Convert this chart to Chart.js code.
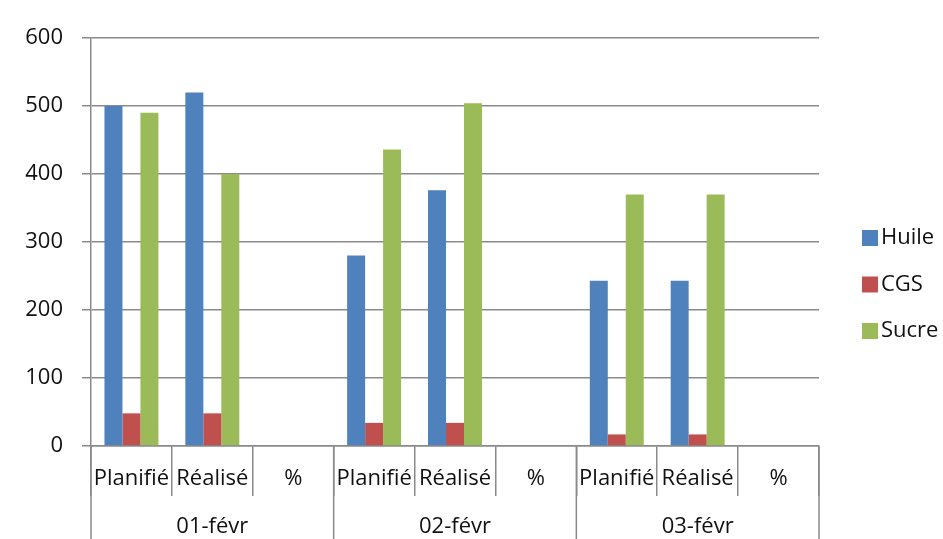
<!DOCTYPE html>
<html>
<head>
<meta charset="utf-8">
<script src="https://cdn.jsdelivr.net/npm/chart.js@4/dist/chart.umd.min.js"></script>
<style>
  html, body { margin: 0; padding: 0; background: #fff; }
  #wrap { width: 943px; height: 539px; position: relative; }
</style>
</head>
<body>
<div id="wrap"><canvas id="chart"></canvas></div>
<script>
// DATA
const groups = ["01-févr", "02-févr", "03-févr"];
const subLabels = ["Planifié", "Réalisé", "%"];
const categories = groups.flatMap(() => subLabels);

const huile = [500, 520, null, 280, 376, null, 243, 243, null];
const cgs = [48, 48, null, 34, 34, null, 17, 17, null];
const sucre = [490, 400, null, 436, 504, null, 370, 370, null];

const yTicks = [0, 100, 200, 300, 400, 500, 600];

const FONT = "'Open Sans', 'DejaVu Sans', sans-serif";
const TEXT = "#111";
const GRID = "#8a8a8a";

// group row under the x axis + long separators
const groupRow = {
    id: "groupRow",
    afterDraw(chart) {
        const ctx = chart.ctx;
        const x = chart.scales.x;
        const slot = x.getPixelForValue(1) - x.getPixelForValue(0);
        const bottom = chart.height;

        ctx.save();
        ctx.strokeStyle = GRID;
        ctx.lineWidth = 1.5;
        for (let g = 0; g <= groups.length; g++) {
            const px = x.getPixelForValue(g * 3) - slot / 2;
            ctx.beginPath();
            ctx.moveTo(px, x.top);
            ctx.lineTo(px, bottom);
            ctx.stroke();
        }

        ctx.fillStyle = TEXT;
        ctx.font = "22px " + FONT;
        ctx.textAlign = "center";
        ctx.textBaseline = "middle";
        groups.forEach((g, i) => {
            ctx.fillText(g, x.getPixelForValue(i * 3 + 1), 527);
        });
        ctx.restore();
    }
};

// legend on the right
const sideLegend = {
    id: "sideLegend",
    afterDraw(chart) {
        const ctx = chart.ctx;
        ctx.save();
        ctx.font = "22px " + FONT;
        ctx.textBaseline = "middle";
        ctx.textAlign = "left";
        chart.data.datasets.forEach((ds, i) => {
            const cy = 238 + i * 46.5;
            ctx.fillStyle = ds.backgroundColor;
            ctx.fillRect(862, cy - 8, 16, 16);
            ctx.fillStyle = TEXT;
            ctx.fillText(ds.label, 881, cy);
        });
        ctx.restore();
    }
};

new Chart(document.getElementById("chart"), {
    type: "bar",
    data: {
        labels: categories,
        datasets: [
            { label: "Huile", data: huile, backgroundColor: "#4F81BD" },
            { label: "CGS", data: cgs, backgroundColor: "#C0504D" },
            { label: "Sucre", data: sucre, backgroundColor: "#9BBB59" }
        ]
    },
    options: {
        responsive: true,
        maintainAspectRatio: false,
        animation: false,
        layout: { padding: { top: 38, right: 124, bottom: 0, left: 0 } },
        datasets: {
            bar: { categoryPercentage: 0.667, barPercentage: 1 }
        },
        plugins: {
            legend: { display: false },
            tooltip: { enabled: false }
        },
        scales: {
            x: {
                grid: {
                    offset: true,
                    drawOnChartArea: false,
                    drawTicks: true,
                    tickLength: 50,
                    color: GRID,
                    lineWidth: 1.5
                },
                border: { color: GRID, width: 1.5 },
                ticks: {
                    padding: -30,
                    color: TEXT,
                    font: { family: FONT, size: 22 },
                    maxRotation: 0,
                    autoSkip: false
                },
                afterFit(scale) { scale.height = 93; }
            },
            y: {
                min: 0,
                max: 600,
                afterBuildTicks(scale) {
                    scale.ticks = yTicks.map(v => ({ value: v }));
                },
                grid: {
                    color: GRID,
                    lineWidth: 1.5,
                    tickLength: 9
                },
                border: { color: GRID, width: 1.5 },
                ticks: {
                    padding: 19,
                    color: TEXT,
                    font: { family: FONT, size: 22 }
                },
                afterFit(scale) { scale.width = 91; }
            }
        }
    },
    plugins: [groupRow, sideLegend]
});
</script>
</body>
</html>
